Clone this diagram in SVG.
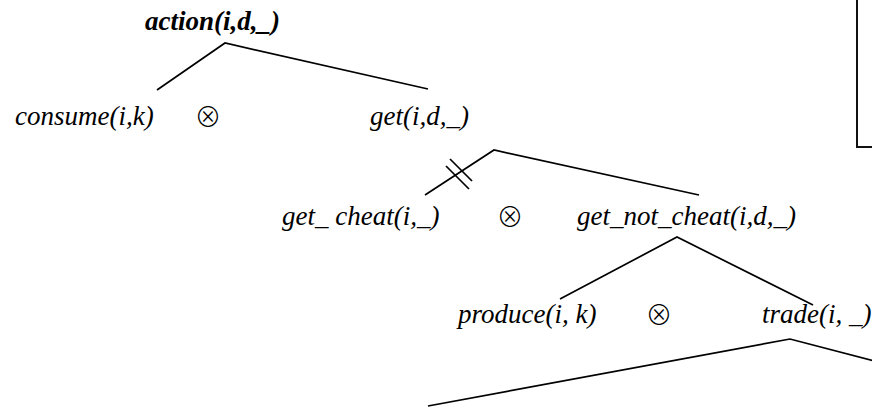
<svg xmlns="http://www.w3.org/2000/svg" width="872" height="407" viewBox="0 0 872 407">
  <style>
    .lbl { font-family: "Liberation Serif", "Times New Roman", serif; font-style: italic; font-size: 27px; fill: #000; }
    .root { font-weight: bold; }
    .op { font-family: "Noto Sans CJK JP", "DejaVu Sans", sans-serif; font-weight: 300; font-size: 27px; fill: #000; text-anchor: middle; }
    .edge { stroke: #000; stroke-width: 1.7; fill: none; stroke-linecap: butt; stroke-linejoin: miter; }
    .frame { stroke: #111; stroke-width: 2; fill: none; }
  </style>
  <rect width="872" height="407" fill="#fff"/>

  <!-- partly visible note frame, top right -->
  <rect class="frame" x="857" y="-10" width="40" height="157"/>

  <!-- tree edges -->
  <g id="connectors">
    <polyline class="edge" points="157,90 225,43 428,89"/>
    <polyline class="edge" points="425,195 494,150 699,195"/>
    <!-- double bar: pruned branch -->
    <line class="edge" x1="450" y1="159" x2="472" y2="181"/>
    <line class="edge" x1="446" y1="166" x2="469" y2="189"/>
    <polyline class="edge" points="560,299 677,237 813,305"/>
    <polyline class="edge" points="428,406 790,339 874,361"/>
  </g>

  <g id="action"><text class="lbl root" x="145" y="30">action(i,d,_)</text></g>
  <g id="consume"><text class="lbl" x="15" y="125">consume(i,k)</text></g>
  <g id="op1"><text class="op" x="208" y="127">⊗</text></g>
  <g id="get"><text class="lbl" x="370" y="125">get(i,d,_)</text></g>
  <g id="get_cheat"><text class="lbl" x="282" y="225">get_ cheat(i,_)</text></g>
  <g id="op2"><text class="op" x="510" y="227">⊗</text></g>
  <g id="get_not_cheat"><text class="lbl" x="577" y="225">get_not_cheat(i,d,_)</text></g>
  <g id="produce"><text class="lbl" x="458" y="323">produce(i, k)</text></g>
  <g id="op3"><text class="op" x="659" y="325">⊗</text></g>
  <g id="trade"><text class="lbl" x="762" y="323">trade(i, _)</text></g>
</svg>
